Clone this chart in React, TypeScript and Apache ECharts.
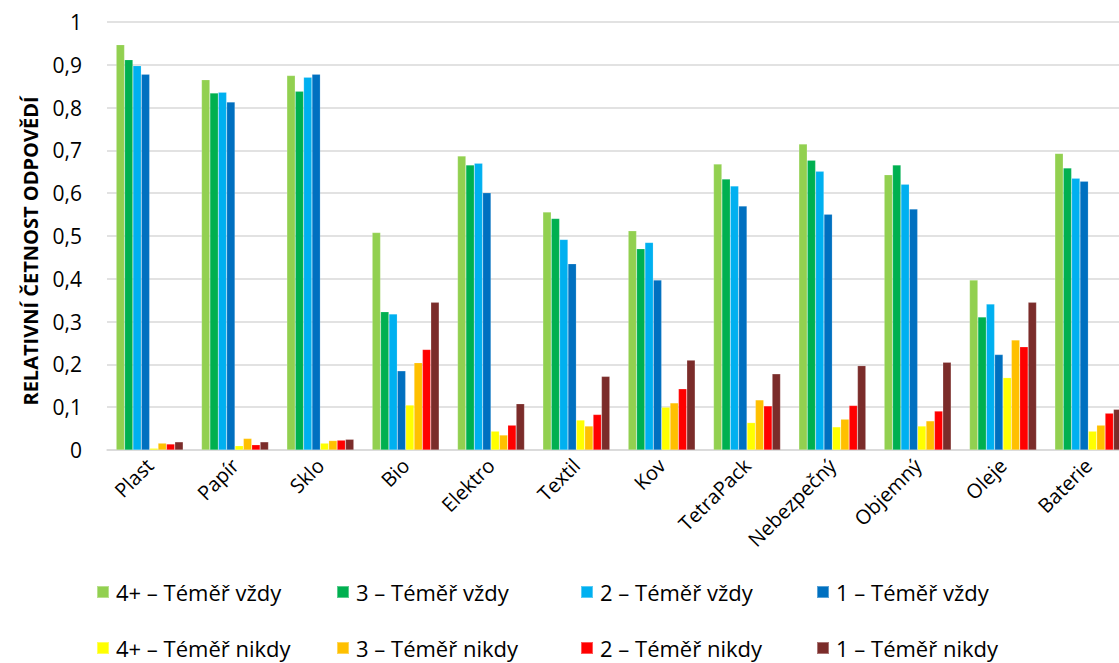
import React, { useEffect, useRef } from "react";
import * as echarts from "echarts";

const categories = ["Plast", "Papír", "Sklo", "Bio", "Elektro", "Textil", "Kov", "TetraPack", "Nebezpečný", "Objemný", "Oleje", "Baterie"];
const seriesNames = [
  "4+ – Téměř vždy", "3 – Téměř vždy", "2 – Téměř vždy", "1 – Téměř vždy",
  "4+ – Téměř nikdy", "3 – Téměř nikdy", "2 – Téměř nikdy", "1 – Téměř nikdy",
];
const v4plus = [0.947, 0.865, 0.875, 0.508, 0.687, 0.556, 0.512, 0.668, 0.715, 0.643, 0.397, 0.693];
const v3 = [0.912, 0.834, 0.838, 0.323, 0.666, 0.541, 0.470, 0.633, 0.677, 0.666, 0.311, 0.659];
const v2 = [0.898, 0.836, 0.871, 0.318, 0.670, 0.492, 0.485, 0.617, 0.651, 0.621, 0.341, 0.635];
const v1 = [0.878, 0.813, 0.878, 0.185, 0.601, 0.435, 0.397, 0.570, 0.551, 0.563, 0.223, 0.628];
const n4plus = [0.004, 0.010, 0.016, 0.105, 0.044, 0.070, 0.100, 0.064, 0.054, 0.056, 0.169, 0.044];
const n3 = [0.016, 0.027, 0.022, 0.204, 0.035, 0.056, 0.110, 0.117, 0.072, 0.068, 0.257, 0.058];
const n2 = [0.014, 0.012, 0.023, 0.235, 0.058, 0.083, 0.143, 0.103, 0.104, 0.091, 0.241, 0.086];
const n1 = [0.019, 0.019, 0.025, 0.345, 0.108, 0.172, 0.210, 0.178, 0.197, 0.205, 0.345, 0.095];
const seriesData = [v4plus, v3, v2, v1, n4plus, n3, n2, n1];
const colors = ["#92D050", "#00B050", "#00B0F0", "#0070C0", "#FFFF00", "#FFC000", "#FF0000", "#7B2C2A"];
const yTicks = [0, 0.1, 0.2, 0.3, 0.4, 0.5, 0.6, 0.7, 0.8, 0.9, 1];

const FONT = "'Open Sans', sans-serif";

export default function App() {
  const ref = useRef<HTMLDivElement>(null);
  useEffect(() => {
    if (!ref.current) return;
    const chart = echarts.init(ref.current, undefined, { renderer: "svg" });
    const legendLeft = [91, 331, 575, 811];
    const legendTop = [576, 632];
    chart.setOption({
      animation: false,
      textStyle: { fontFamily: FONT },
      grid: { left: 107, top: 22, width: 1024, height: 428, containLabel: false },
      legend: seriesNames.map((n, i) => ({
        data: [n],
        left: legendLeft[i % 4],
        top: legendTop[Math.floor(i / 4)],
        itemWidth: 12,
        itemHeight: 12,
        itemGap: 0,
        icon: "rect",
        selectedMode: false,
        textStyle: { fontFamily: FONT, fontSize: 22, color: "#000", padding: [0, 0, 0, 2] },
      })),
      xAxis: {
        type: "category",
        data: categories,
        axisLine: { show: true, lineStyle: { color: "#D9D9D9", width: 1.5 } },
        axisTick: { show: false },
        axisLabel: { rotate: 45, fontSize: 20, color: "#000", fontFamily: FONT, margin: 12, interval: 0 },
      },
      yAxis: {
        type: "value",
        min: 0,
        max: 1,
        interval: 0.1,
        axisLine: { show: false },
        axisTick: { show: false },
        splitLine: { lineStyle: { color: "#D9D9D9", width: 1.5 } },
        axisLabel: {
          fontSize: 21,
          color: "#000",
          fontFamily: FONT,
          margin: 25,
          formatter: (v: number) => {
            const t = yTicks.find((x) => Math.abs(x - v) < 1e-6);
            return t === undefined ? "" : String(Math.round(t * 10) / 10).replace(".", ",");
          },
        },
      },
      graphic: [
        {
          type: "text",
          x: 30,
          y: 251,
          rotation: Math.PI / 2,
          style: {
            text: "RELATIVNÍ ČETNOST ODPOVĚDÍ",
            fontFamily: FONT,
            fontWeight: "bold",
            fontSize: 20,
            fill: "#000",
            textAlign: "center",
            textVerticalAlign: "middle",
          },
        },
      ],
      series: seriesNames.map((n, i) => ({
        name: n,
        type: "bar",
        data: seriesData[i],
        barGap: "0%",
        barCategoryGap: "21.5%",
        itemStyle: { color: colors[i], borderColor: "rgba(255,255,255,0.35)", borderWidth: 0.5 },
      })),
    });
    return () => chart.dispose();
  }, []);
  return (
    <div style={{ position: "fixed", left: 0, top: 0, width: 1119, height: 663, overflow: "hidden", background: "#fff" }}>
      <div ref={ref} style={{ width: 1135, height: 663 }} />
    </div>
  );
}
